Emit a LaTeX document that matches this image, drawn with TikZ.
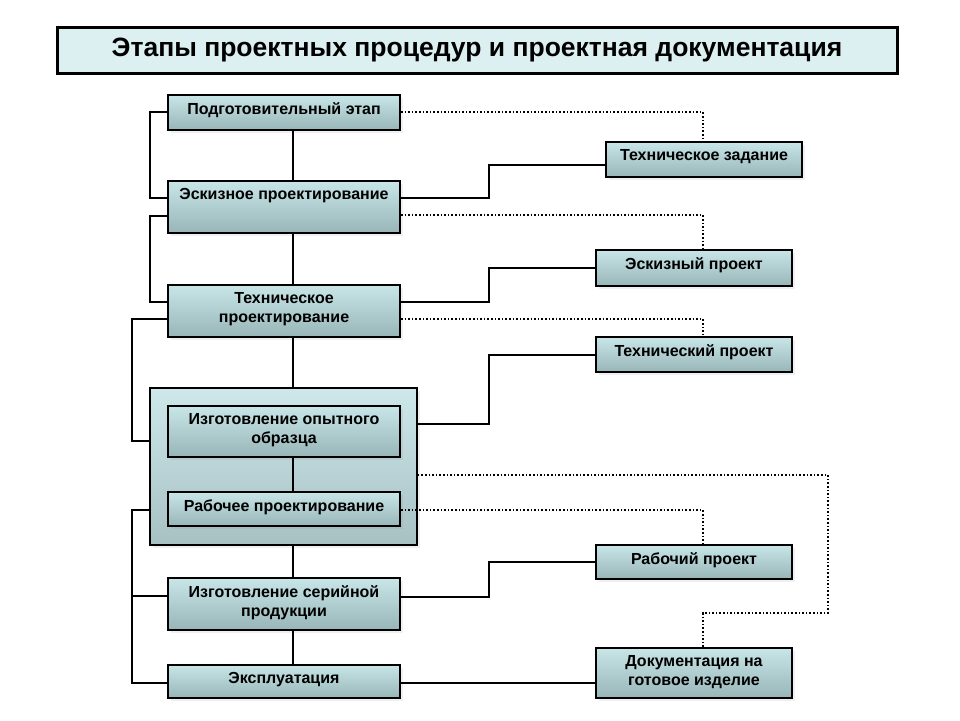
\documentclass[tikz,border=0pt]{standalone}
\usepackage{fontspec}
\setmainfont{Liberation Sans}
\usetikzlibrary{shadows}

\definecolor{boxtop}{HTML}{C8E5E8}
\definecolor{boxbot}{HTML}{98B5B8}
\definecolor{titlefill}{HTML}{DCEFF1}

\tikzset{
    stage/.style={draw=black, line width=2pt, top color=boxtop, bottom color=boxbot,
        minimum width=232pt, inner sep=0pt,
        drop shadow={opacity=0.12, shadow xshift=3pt, shadow yshift=-3pt}},
    doc/.style={stage, minimum width=196pt},
    lbl/.style={anchor=north, align=center, font=\bfseries\fontsize{16}{19}\selectfont, inner sep=0pt},
    link/.style={line width=1.8pt},
    ref/.style={line width=1.6pt, dotted}
}

\begin{document}
\begin{tikzpicture}[x=1pt, y=-1pt]
    \useasboundingbox (0,0) rectangle (960,720);

    % title
    \node[draw=black, line width=3pt, fill=titlefill, minimum width=840pt, minimum height=46pt,
        font=\bfseries\fontsize{26.5}{30}\selectfont] (title) at (477,50) {Этапы проектных процедур и проектная документация};

    % container
    \node[draw=black, line width=1.5pt, top color=boxtop!90, bottom color=boxbot!85!white,
        minimum width=267pt, minimum height=157pt,
        drop shadow={opacity=0.12, shadow xshift=3pt, shadow yshift=-3pt}] (group) at (283.5,466.5) {};

    % stages
    \node[stage, minimum height=35pt] (prep) at (284,112.5) {};
    \node[lbl] (prep-t) at ([yshift=-8.5pt]prep.north) {Подготовительный этап};
    \node[stage, minimum height=52pt] (eskiz) at (284,207) {};
    \node[lbl] (eskiz-t) at ([yshift=-8.5pt]eskiz.north) {Эскизное проектирование};
    \node[stage, minimum height=52pt] (tech) at (284,311) {};
    \node[lbl] (tech-t) at ([yshift=-8.5pt]tech.north) {Техническое\\проектирование};
    \node[stage, minimum height=51pt] (proto) at (284,431.5) {};
    \node[lbl] (proto-t) at ([yshift=-8.5pt]proto.north) {Изготовление опытного\\образца};
    \node[stage, minimum height=34pt] (work) at (284,509) {};
    \node[lbl] (work-t) at ([yshift=-8.5pt]work.north) {Рабочее проектирование};
    \node[stage, minimum height=52pt] (serial) at (284,604) {};
    \node[lbl] (serial-t) at ([yshift=-8.5pt]serial.north) {Изготовление серийной\\продукции};
    \node[stage, minimum height=33pt] (use) at (284,681.5) {};
    \node[lbl] (use-t) at ([yshift=-8.5pt]use.north) {Эксплуатация};

    % documents
    \node[doc, minimum height=35pt] (tz) at (704,159.5) {};
    \node[lbl] (tz-t) at ([yshift=-8.5pt]tz.north) {Техническое задание};
    \node[doc, minimum height=36pt] (ep) at (694,268) {};
    \node[lbl] (ep-t) at ([yshift=-8.5pt]ep.north) {Эскизный проект};
    \node[doc, minimum height=35pt] (tp) at (694,354.5) {};
    \node[lbl] (tp-t) at ([yshift=-8.5pt]tp.north) {Технический проект};
    \node[doc, minimum height=34pt] (rp) at (694,562) {};
    \node[lbl] (rp-t) at ([yshift=-8.5pt]rp.north) {Рабочий проект};
    \node[doc, minimum height=50pt] (dg) at (694,673) {};
    \node[lbl] (dg-t) at ([yshift=-8.5pt]dg.north) {Документация на\\готовое изделие};

    % sequence
    \draw[link] (prep.south -| 293,0) -- (eskiz.north -| 293,0);
    \draw[link] (eskiz.south -| 293,0) -- (tech.north -| 293,0);
    \draw[link] (tech.south -| 293,0) -- (group.north -| 293,0);
    \draw[link] (proto.south -| 293,0) -- (work.north -| 293,0);
    \draw[link] (group.south -| 293,0) -- (serial.north -| 293,0);
    \draw[link] (serial.south -| 293,0) -- (use.north -| 293,0);

    % loops on the left
    \draw[link] ([yshift=0.5pt]prep.west) -| (150,198) -- (eskiz.west |- 0,198);
    \draw[link] (eskiz.west |- 0,216) -| (150,302) -- (tech.west |- 0,302);
    \draw[link] (tech.west |- 0,319) -| (132,441) -- (group.west |- 0,441);
    \draw[link] (group.west |- 0,510) -| (132,683) -- (use.west |- 0,683);
    \draw[link] (132,596) -- (serial.west |- 0,596);

    % documents produced
    \draw[link] (eskiz.east |- 0,198) -| (489,165) -- (tz.west |- 0,165);
    \draw[link] (tech.east |- 0,302) -| (489,268) -- (ep.west |- 0,268);
    \draw[link] (group.east |- 0,424) -| (489,355) -- (tp.west |- 0,355);
    \draw[link] (serial.east |- 0,597) -| (489,562) -- (rp.west |- 0,562);
    \draw[link] (use.east |- 0,683) -- (dg.west |- 0,683);

    % documents required
    \draw[ref] ([yshift=0.5pt]prep.east) -| (tz.north -| 703,0);
    \draw[ref] (eskiz.east |- 0,215) -| (ep.north -| 703,0);
    \draw[ref] (tech.east |- 0,319) -| (tp.north -| 703,0);
    \draw[ref] (work.east |- 0,510) -| (rp.north -| 703,0);
    \draw[ref] (group.east |- 0,475) -| (828,613) -| (dg.north -| 703,0);
\end{tikzpicture}
\end{document}
